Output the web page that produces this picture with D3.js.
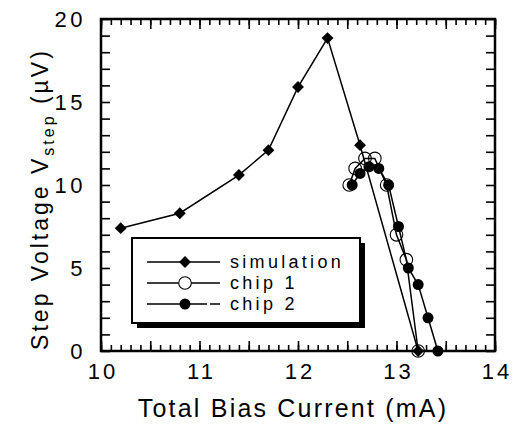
<!DOCTYPE html>
<html>
<head>
<meta charset="utf-8">
<script src="https://cdn.jsdelivr.net/npm/d3@7"></script>
<style>
body{margin:0;background:#fff}
</style>
</head>
<body>
<div id="chart"></div>
<script>
// values
const simX = [10.2, 10.8, 11.4, 11.7, 12.0, 12.3, 12.63, 13.22]
const simY = [7.4, 8.3, 10.6, 12.1, 15.9, 18.85, 12.4, 0]
const chip1X = [12.52, 12.58, 12.68, 12.78, 12.9, 13.0, 13.1, 13.22]
const chip1Y = [10.0, 11.0, 11.6, 11.6, 10.0, 7.0, 5.5, 0]
const chip2X = [12.55, 12.63, 12.72, 12.82, 12.92, 13.02, 13.12, 13.22, 13.32, 13.42]
const chip2Y = [10.0, 10.7, 11.1, 11.0, 10.0, 7.5, 5.0, 4.0, 2.0, 0]
const seriesNames = ["simulation", "chip 1", "chip 2"]
const xTicks = [10, 11, 12, 13, 14]
const yTicks = [0, 5, 10, 15, 20]

const FONT = '"Liberation Sans", Arial, Helvetica, sans-serif'
const W = 516, H = 426
const margin = {top: 19, right: 21, bottom: 75, left: 101}
const width = W - margin.left - margin.right
const height = H - margin.top - margin.bottom

const svg = d3.select("#chart").append("svg")
    .attr("width", W)
    .attr("height", H)
    .attr("font-family", FONT)

const g = svg.append("g")
    .attr("transform", `translate(${margin.left},${margin.top})`)

//escalas
const x = d3.scaleLinear().domain([10, 14]).range([0, width])
const y = d3.scaleLinear().domain([0, 20]).range([height, 0])

const minorX = d3.range(100, 141).map(d => d / 10)
const halfX = d3.range(20, 29).map(d => d / 2)
const unitY = d3.range(0, 21)

function tickStyle(sel){
    sel.select(".domain").remove()
    sel.selectAll(".tick line").attr("stroke", "#000").attr("stroke-width", 1.6)
}

// ticks hacia dentro
g.append("g").attr("transform", `translate(0,${height})`)
    .call(d3.axisBottom(x).tickValues(minorX).tickSize(-6).tickFormat(""))
    .call(tickStyle)
g.append("g").attr("transform", `translate(0,${height})`)
    .call(d3.axisBottom(x).tickValues(halfX).tickSize(-10).tickFormat(""))
    .call(tickStyle)
g.append("g")
    .call(d3.axisTop(x).tickValues(minorX).tickSize(-6).tickFormat(""))
    .call(tickStyle)
g.append("g")
    .call(d3.axisTop(x).tickValues(halfX).tickSize(-10).tickFormat(""))
    .call(tickStyle)
g.append("g")
    .call(d3.axisLeft(y).tickValues(unitY).tickSize(-9).tickFormat(""))
    .call(tickStyle)
g.append("g").attr("transform", `translate(${width},0)`)
    .call(d3.axisRight(y).tickValues(unitY).tickSize(-9).tickFormat(""))
    .call(tickStyle)

// etiquetas
const xLab = g.append("g").attr("transform", `translate(0,${height})`)
    .call(d3.axisBottom(x).tickValues(xTicks).tickSize(0).tickPadding(12).tickFormat(d3.format("d")))
xLab.select(".domain").remove()
xLab.selectAll("text").attr("font-size", 22).attr("font-family", FONT)
    .attr("letter-spacing", 3).attr("dx", 1.5).attr("fill", "#000")

const yLab = g.append("g")
    .call(d3.axisLeft(y).tickValues(yTicks).tickSize(0).tickPadding(15).tickFormat(d3.format("d")))
yLab.select(".domain").remove()
yLab.selectAll("text").attr("font-size", 22).attr("font-family", FONT)
    .attr("letter-spacing", 3.5).attr("fill", "#000")

// marco
g.append("rect")
    .attr("width", width).attr("height", height)
    .attr("fill", "none").attr("stroke", "#000").attr("stroke-width", 2.5)

// series
const sim = simX.map((v, i) => ({x: v, y: simY[i]}))
const chip1 = chip1X.map((v, i) => ({x: v, y: chip1Y[i]}))
const chip2 = chip2X.map((v, i) => ({x: v, y: chip2Y[i]}))

const line = d3.line().x(d => x(d.x)).y(d => y(d.y))

;[sim, chip1, chip2].forEach(s => {
    g.append("path")
        .datum(s)
        .attr("d", line)
        .attr("fill", "none")
        .attr("stroke", "#000")
        .attr("stroke-width", 1.5)
})

const diamond = d3.symbol().type(d3.symbolDiamond2).size(90)

g.selectAll("circle.c1")
    .data(chip1)
    .enter()
    .append("circle")
    .attr("class", "c1")
    .attr("cx", d => x(d.x))
    .attr("cy", d => y(d.y))
    .attr("r", 6.3)
    .attr("fill", "none")
    .attr("stroke", "#000")
    .attr("stroke-width", 1.1)

g.selectAll("circle.c2")
    .data(chip2)
    .enter()
    .append("circle")
    .attr("class", "c2")
    .attr("cx", d => x(d.x))
    .attr("cy", d => y(d.y))
    .attr("r", 5.5)
    .attr("fill", "#000")

g.selectAll("path.sim")
    .data(sim)
    .enter()
    .append("path")
    .attr("class", "sim")
    .attr("d", diamond)
    .attr("transform", d => `translate(${x(d.x)},${y(d.y)})`)
    .attr("fill", "#000")

//leyenda
const lg = svg.append("g").attr("transform", "translate(132,238)")
lg.append("rect").attr("x", 5).attr("y", 5).attr("width", 228).attr("height", 85).attr("fill", "#000")
lg.append("rect").attr("width", 228).attr("height", 85)
    .attr("fill", "#fff").attr("stroke", "#000").attr("stroke-width", 2)

const rows = lg.selectAll("g.row")
    .data(seriesNames)
    .enter()
    .append("g")
    .attr("class", "row")
    .attr("transform", (d, i) => `translate(0,${24 + i * 21})`)

rows.append("line")
    .attr("x1", 15).attr("x2", 88)
    .attr("stroke", "#000").attr("stroke-width", 1.5)
    .attr("stroke-dasharray", (d, i) => i === 2 ? "60,3,10,3" : null)

rows.each(function(d, i){
    const r = d3.select(this)
    if (i === 0) r.append("path").attr("d", diamond).attr("transform", "translate(53,0)").attr("fill", "#000")
    if (i === 1) r.append("circle").attr("cx", 53).attr("r", 6.3).attr("fill", "#fff").attr("stroke", "#000").attr("stroke-width", 1.1)
    if (i === 2) r.append("circle").attr("cx", 53).attr("r", 5.5).attr("fill", "#000")
})

rows.append("text")
    .attr("x", 98)
    .attr("dy", "0.36em")
    .attr("font-size", 18)
    .attr("letter-spacing", 3.3)
    .text(d => d)

// titulos de ejes
svg.append("text")
    .attr("x", margin.left + width / 2 - 5)
    .attr("y", 417)
    .attr("text-anchor", "middle")
    .attr("font-size", 25)
    .attr("letter-spacing", 2.2)
    .text("Total Bias Current (mA)")

const yt = svg.append("text")
    .attr("transform", "translate(48,199) rotate(-90)")
    .attr("text-anchor", "middle")
    .attr("font-size", 23)
    .attr("letter-spacing", 3)
yt.append("tspan").text("Step Voltage V")
yt.append("tspan").attr("font-size", 16).attr("dy", 6).text("step")
yt.append("tspan").attr("dy", -6).text(" (µV)")
</script>
</body>
</html>
